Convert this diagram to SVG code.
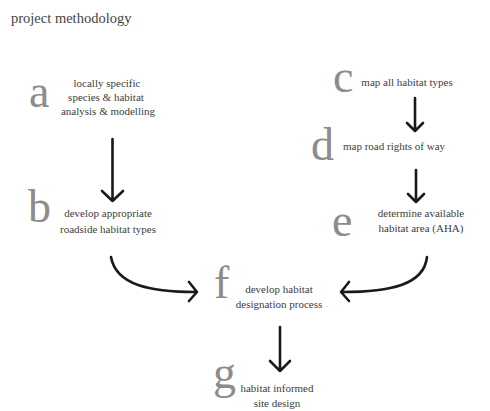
<svg xmlns="http://www.w3.org/2000/svg" width="490" height="411" viewBox="0 0 490 411">
<style>
.t{font-family:"Liberation Serif","Times New Roman",serif;font-size:11px;fill:#404040;text-anchor:middle}
.L{font-family:"Liberation Serif","Times New Roman",serif;font-size:46px;fill:#8c8c8c}
.ti{font-family:"Liberation Serif","Times New Roman",serif;font-size:14.5px;fill:#444}
.ar{fill:none;stroke:#1a1a1a;stroke-width:2.6;stroke-linecap:round;stroke-linejoin:round}
</style>
<rect width="490" height="411" fill="#fff"/>
<text class="ti" x="11" y="23">project methodology</text>
<g id="node-a"><text class="L" x="29" y="107">a</text>
<text class="t" x="107" y="87">locally specific</text>
<text class="t" x="106" y="101">species &amp; habitat</text>
<text class="t" x="108" y="115">analysis &amp; modelling</text></g>
<g id="node-b"><text class="L" x="28" y="222">b</text>
<text class="t" x="108" y="217">develop appropriate</text>
<text class="t" x="108" y="233">roadside habitat types</text></g>
<g id="node-c"><text class="L" x="333" y="92">c</text>
<text class="t" x="407" y="86">map all habitat types</text></g>
<g id="node-d"><text class="L" x="311" y="160">d</text>
<text class="t" x="394" y="150">map  road rights of way</text></g>
<g id="node-e"><text class="L" x="332" y="236">e</text>
<text class="t" x="421" y="217">determine available</text>
<text class="t" x="421" y="232">habitat area (AHA)</text></g>
<g id="node-f"><text class="L" x="214" y="298">f</text>
<text class="t" x="279" y="293">develop habitat</text>
<text class="t" x="279" y="308">designation process</text></g>
<g id="node-g"><text class="L" x="213" y="388">g</text>
<text class="t" x="277" y="392">habitat informed</text>
<text class="t" x="277" y="407">site design</text></g>
<g id="connectors">
<path class="ar" d="M112.5 139 V201 M102 191 L112.5 201 L123 191"/>
<path class="ar" d="M415 98 V131 M407 123 L415 131 L423 123"/>
<path class="ar" d="M416 170 V202 M408 194 L416 202 L424 194"/>
<path class="ar" d="M111 257 C116 285 150 292 196 292 M189 282 L197 292 L189 301"/>
<path class="ar" d="M427 257 C424 285 390 292 342 292 M349 282 L341 292 L349 301"/>
<path class="ar" d="M280 327 V371 M270 361 L280 371 L290 361"/>
</g>
</svg>
